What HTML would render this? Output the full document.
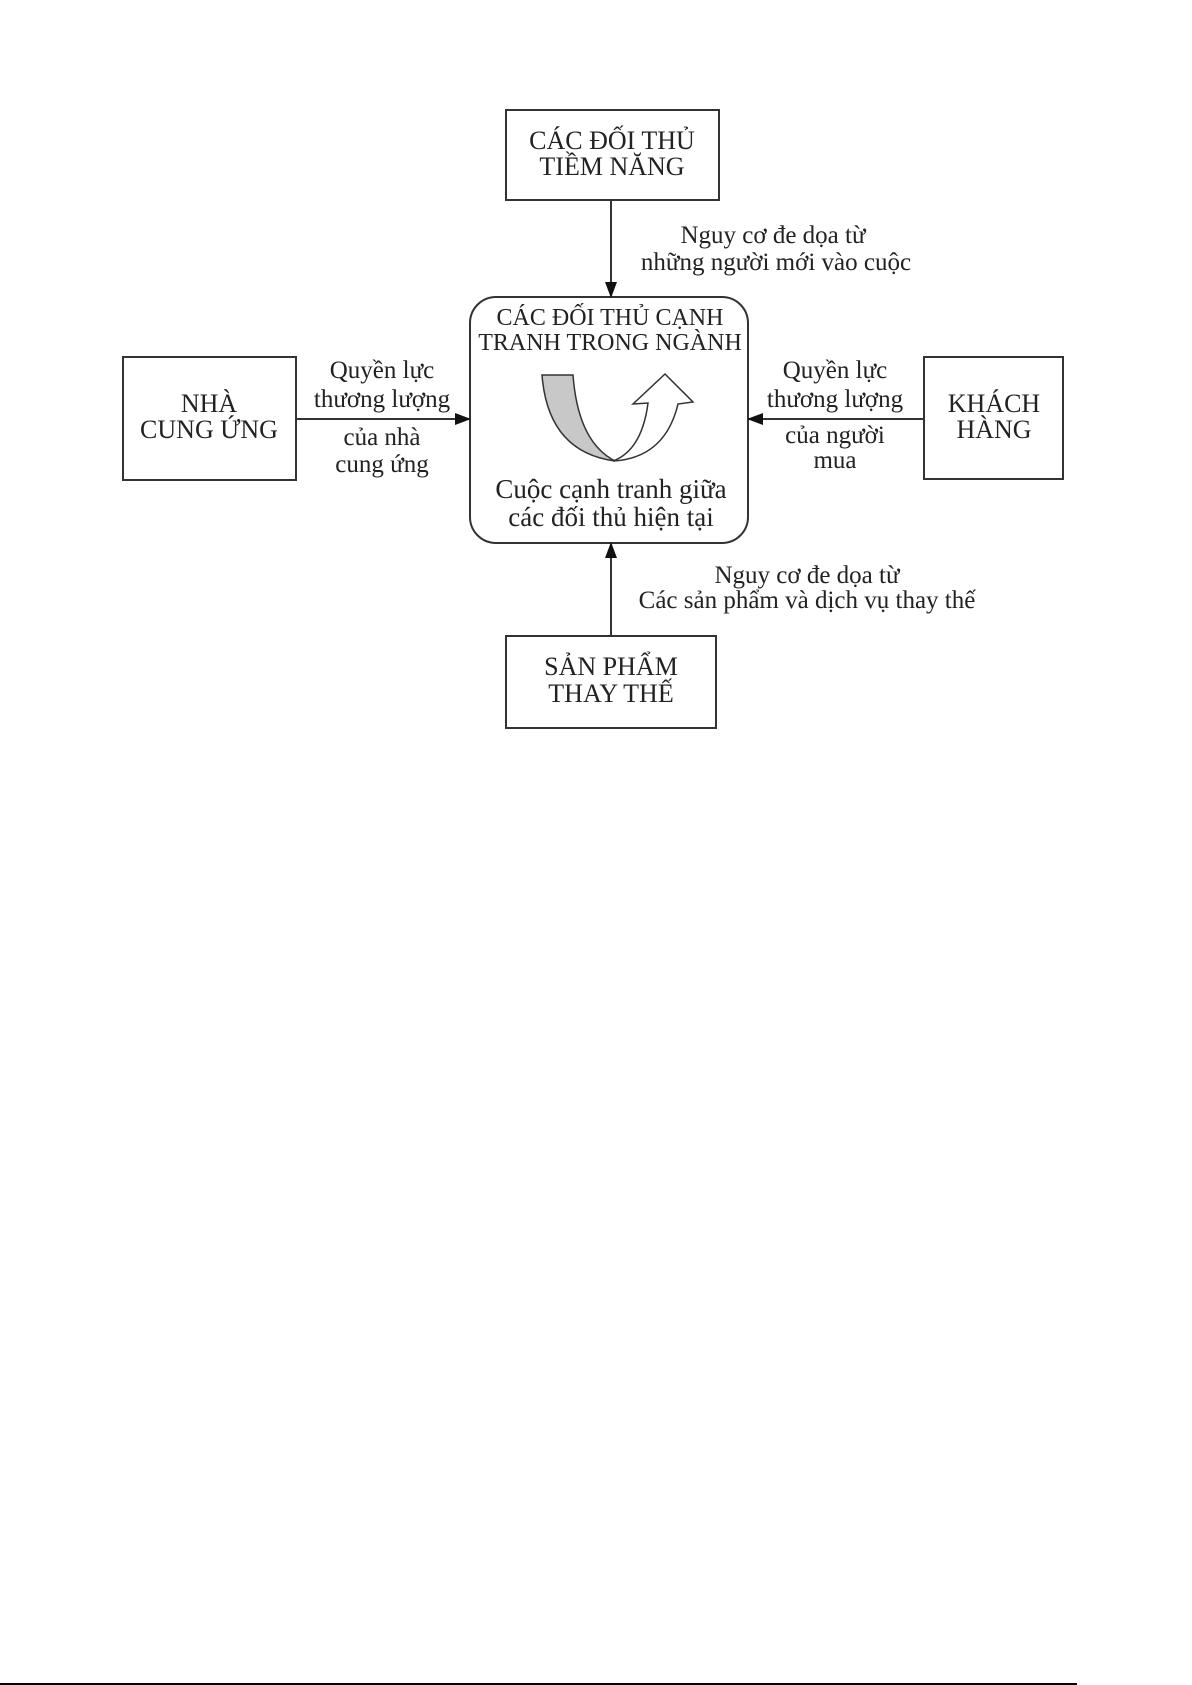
<!DOCTYPE html>
<html><head><meta charset="utf-8"><style>
html,body{margin:0;padding:0;background:#fff;}
svg{display:block;}
text{font-family:"Liberation Serif",serif;fill:#222;text-anchor:middle;}
.b{font-size:26px;}
.h{font-size:24px;}
.c{font-size:27px;}
.t{font-size:25px;}
</style></head><body>
<svg width="1192" height="1685" viewBox="0 0 1192 1685" xmlns="http://www.w3.org/2000/svg">
<defs>
<marker id="a2" markerWidth="16" markerHeight="12" refX="15" refY="6" orient="auto" markerUnits="userSpaceOnUse"><path d="M0,0 L16,6 L0,12 Z" fill="#111"/></marker></defs>
<g stroke="#333" stroke-width="2" fill="none">
<rect x="506" y="110" width="213" height="90"/>
<rect x="470" y="297" width="278" height="246" rx="26"/>
<rect x="123" y="357" width="173" height="123"/>
<rect x="924" y="357" width="139" height="122"/>
<rect x="506" y="636" width="210" height="92"/>
<line x1="611" y1="200" x2="611" y2="297" marker-end="url(#a2)"/>
<line x1="611" y1="636" x2="611" y2="543" marker-end="url(#a2)"/>
<line x1="296" y1="419" x2="470" y2="419" marker-end="url(#a2)"/>
<line x1="924" y1="419" x2="748" y2="419" marker-end="url(#a2)"/>
</g>
<line x1="0" y1="1684" x2="1077" y2="1684" stroke="#000" stroke-width="2"/>
<path d="M542,375 L573,375 Q578,442 615,461 Q548,452 542,375 Z" fill="#c8c8c8" stroke="#333" stroke-width="1.5"/>
<path d="M613,461 Q665,458 678,404 L693,402 L665,374 L633,404 L648,403 Q642,450 613,461 Z" fill="#fff" stroke="#333" stroke-width="1.5"/>
<text class="b" x="612" y="149">CÁC ĐỐI THỦ</text>
<text class="b" x="612" y="175">TIỀM NĂNG</text>
<text class="t" x="773" y="243">Nguy cơ đe dọa từ</text>
<text class="t" x="776" y="270">những người mới vào cuộc</text>
<text class="h" x="610" y="325">CÁC ĐỐI THỦ CẠNH</text>
<text class="h" x="610" y="350">TRANH TRONG NGÀNH</text>
<text class="c" x="611" y="498">Cuộc cạnh tranh giữa</text>
<text class="c" x="611" y="526">các đối thủ hiện tại</text>
<text class="b" x="209" y="412">NHÀ</text>
<text class="b" x="209" y="438">CUNG ỨNG</text>
<text class="t" x="382" y="378">Quyền lực</text>
<text class="t" x="382" y="407">thương lượng</text>
<text class="t" x="382" y="445">của nhà</text>
<text class="t" x="382" y="472">cung ứng</text>
<text class="t" x="835" y="378">Quyền lực</text>
<text class="t" x="835" y="407">thương lượng</text>
<text class="t" x="835" y="443">của người</text>
<text class="t" x="835" y="468">mua</text>
<text class="b" x="994" y="412">KHÁCH</text>
<text class="b" x="994" y="438">HÀNG</text>
<text class="t" x="807" y="583">Nguy cơ đe dọa từ</text>
<text class="t" x="807" y="608">Các sản phẩm và dịch vụ thay thế</text>
<text class="b" x="611" y="675">SẢN PHẨM</text>
<text class="b" x="611" y="702">THAY THẾ</text>
</svg>
</body></html>
